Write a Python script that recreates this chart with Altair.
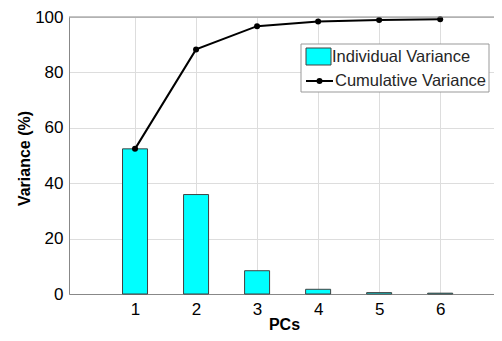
import altair as alt
import pandas as pd

pcs = [1, 2, 3, 4, 5, 6]
individual = [52.4, 35.9, 8.4, 1.7, 0.5, 0.3]
cumulative = [52.4, 88.3, 96.7, 98.4, 98.9, 99.2]
legend_labels = ["Individual Variance", "Cumulative Variance"]

df = pd.DataFrame({"pc": pcs, "ind": individual, "cum": cumulative})

FONT = "Liberation Sans"
TXT = "#262626"

x = alt.X("pc:Q", scale=alt.Scale(domain=[0, 6.8], nice=False, zero=False),
          axis=alt.Axis(values=pcs, title="PCs", labelFontSize=17, titleFontSize=16,
                        titleFontWeight="bold", labelPadding=7,
                        titleX=215, titleY=35, titleBaseline="alphabetic",
                        titleAlign="center", ticks=False, format="d"))
y = alt.Y("ind:Q", scale=alt.Scale(domain=[0, 100], nice=False),
          axis=alt.Axis(values=[0, 20, 40, 60, 80, 100], title="Variance (%)",
                        labelFontSize=17, titleFontSize=16, titleFontWeight="bold",
                        labelPadding=6, titleX=-45, titleY=141, titleAngle=270,
                        titleAlign="center", titleBaseline="middle", ticks=False))

base = alt.Chart(df)
bars = base.mark_bar(size=25, color="#00FFFF", stroke="#404040", strokeWidth=1).encode(x=x, y=y)
line = base.mark_line(color="black", strokeWidth=2).encode(x=x, y=alt.Y("cum:Q"))
pts = base.mark_point(filled=True, color="black", size=36, opacity=1).encode(x=x, y=alt.Y("cum:Q"))

one = alt.Chart(pd.DataFrame({"k": [0]}))
topline = one.mark_rule(color="#888888", strokeWidth=1).encode(
    x=alt.value(0), x2=alt.value(425), y=alt.value(0))
box = one.mark_rect(fill="white", stroke="#999999", strokeWidth=1).encode(
    x=alt.value(232), x2=alt.value(420), y=alt.value(27), y2=alt.value(75))
swatch = one.mark_rect(fill="#00FFFF", stroke="#404040", strokeWidth=1).encode(
    x=alt.value(237), x2=alt.value(262), y=alt.value(31), y2=alt.value(48))
lsym = one.mark_rule(color="black", strokeWidth=2).encode(
    x=alt.value(237), x2=alt.value(264), y=alt.value(64))
ldot = one.mark_point(filled=True, color="black", size=36, opacity=1).encode(
    x=alt.value(250.5), y=alt.value(64))
t1 = alt.Chart(pd.DataFrame({"t": [legend_labels[0]]})).mark_text(
    align="left", baseline="middle", fontSize=16.5, font=FONT, color=TXT).encode(
    x=alt.value(263), y=alt.value(40), text="t:N")
t2 = alt.Chart(pd.DataFrame({"t": [legend_labels[1]]})).mark_text(
    align="left", baseline="middle", fontSize=16.5, font=FONT, color=TXT).encode(
    x=alt.value(266), y=alt.value(64), text="t:N")

chart = alt.layer(bars, line, pts, topline, box, swatch, lsym, ldot, t1, t2).properties(
    width=425, height=277,
    autosize=alt.AutoSizeParams(type="none"),
    padding={"left": 61, "top": 9, "right": 0, "bottom": 39},
).configure_view(strokeWidth=0).configure_axis(
    labelFont=FONT, titleFont=FONT, labelColor=TXT, titleColor=TXT,
    gridColor="#e3e3e3", domainColor="#888888", domainWidth=1,
).configure(background="white")

chart.save("out.html", embed_options={"renderer": "svg", "actions": False})
